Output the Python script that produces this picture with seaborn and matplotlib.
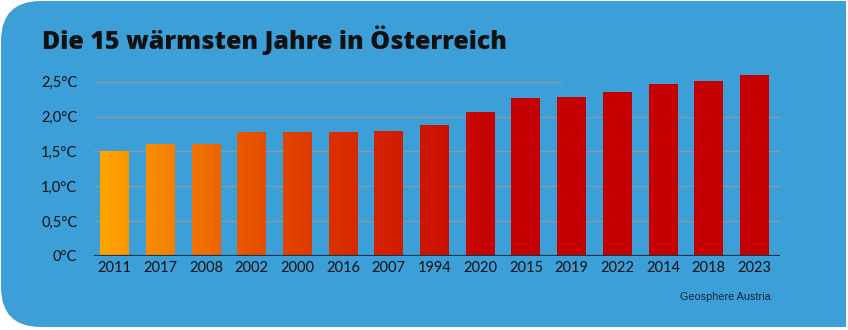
import numpy as np
import pandas as pd
import matplotlib
matplotlib.use("Agg")
import matplotlib.pyplot as plt
import seaborn as sns
from matplotlib.patches import FancyBboxPatch, Rectangle
from matplotlib.colors import LinearSegmentedColormap, Normalize

# Die 15 wärmsten Jahre, sortiert nach Abweichung (°C)
years = ["2011", "2017", "2008", "2002", "2000", "2016", "2007", "1994",
         "2020", "2015", "2019", "2022", "2014", "2018", "2023"]
anomaly = [1.50, 1.60, 1.60, 1.78, 1.78, 1.78, 1.79, 1.88,
           2.06, 2.27, 2.28, 2.35, 2.47, 2.51, 2.59]
y_ticks = [0.0, 0.5, 1.0, 1.5, 2.0, 2.5]
y_tick_labels = ["0°C", "0,5°C", "1,0°C", "1,5°C", "2,0°C", "2,5°C"]

title = "Die 15 wärmsten Jahre in Österreich"
source = "Geosphere Austria"

BG = "#3C9FD7"
XLIM = (-0.45, 14.56)
YLIM = (0, 2.7)

sns.set_theme(style="white")
plt.rcParams["font.family"] = ["Lato", "DejaVu Sans"]

fig = plt.figure(figsize=(8.48, 3.30), dpi=100)
fig.patch.set_facecolor("white")

# blue panel, rounded on the left side only
panel = FancyBboxPatch((0.01, 0.03), 8.45, 3.26,
                       boxstyle="round,pad=0,rounding_size=0.4",
                       transform=fig.dpi_scale_trans, fc=BG, ec="none", zorder=-10)
fig.add_artist(panel)
fig.add_artist(Rectangle((4.0, 0.03), 4.46, 3.26, transform=fig.dpi_scale_trans,
                         fc=BG, ec="none", zorder=-10))

ax = fig.add_axes([94 / 848, 74.3 / 330, 686 / 848, 187.9 / 330])
ax.set_facecolor("none")

df = pd.DataFrame({"Jahr": years, "Abweichung": anomaly})
sns.barplot(data=df, x="Jahr", y="Abweichung", order=years, width=0.63,
            color="#C40000", saturation=1, linewidth=0, ax=ax, zorder=3)

# orange-to-red gradient running across the bars
stops = [(-0.45, "#FFA800"), (1.3, "#F47E00"), (3.0, "#E65200"),
         (5.0, "#D82C00"), (7.0, "#CC1400"), (8.3, "#C40000"), (14.56, "#C40000")]
norm = Normalize(*XLIM)
cmap = LinearSegmentedColormap.from_list(
    "warm", [(norm(x), c) for x, c in stops])
grad = np.linspace(XLIM[0], XLIM[1], 800)[np.newaxis, :]
for bar in list(ax.patches):
    bar.set_edgecolor("none")
    im = ax.imshow(grad, extent=[XLIM[0], XLIM[1], YLIM[0], YLIM[1]],
                   cmap=cmap, norm=norm, aspect="auto", zorder=3.5,
                   interpolation="bilinear")
    im.set_clip_path(bar)

# grid lines
for t in y_ticks[1:-1]:
    ax.axhline(t, color="#8E9AA2", lw=0.9, zorder=1)
ax.hlines(y_ticks[-1], XLIM[0], 9.8, color="#8E9AA2", lw=0.9, zorder=1)
ax.axhline(0, color="#17364D", lw=1.6, zorder=5)

ax.set_xlim(*XLIM)
ax.set_ylim(*YLIM)
ax.set_yticks(y_ticks)
ax.set_yticklabels(y_tick_labels)
ax.set_xlabel("")
ax.set_ylabel("")
for s in ax.spines.values():
    s.set_visible(False)
ax.tick_params(axis="y", length=0, pad=12, labelsize=10.5, labelcolor="#111111")
ax.tick_params(axis="x", length=0, pad=4, labelsize=10.5, labelcolor="#111111")

fig.text(42 / 848, 1 - 49 / 330, title, fontsize=18, fontweight=800,
         family=["Open Sans", "DejaVu Sans"],
         va="baseline", ha="left", color="#111111")
fig.text(771 / 848, 1 - 297 / 330, source, ha="right", va="center",
         fontsize=7.8, family=["Liberation Sans", "DejaVu Sans"], color="#15283A")

fig.savefig("out.png", dpi=100, facecolor=fig.get_facecolor())
